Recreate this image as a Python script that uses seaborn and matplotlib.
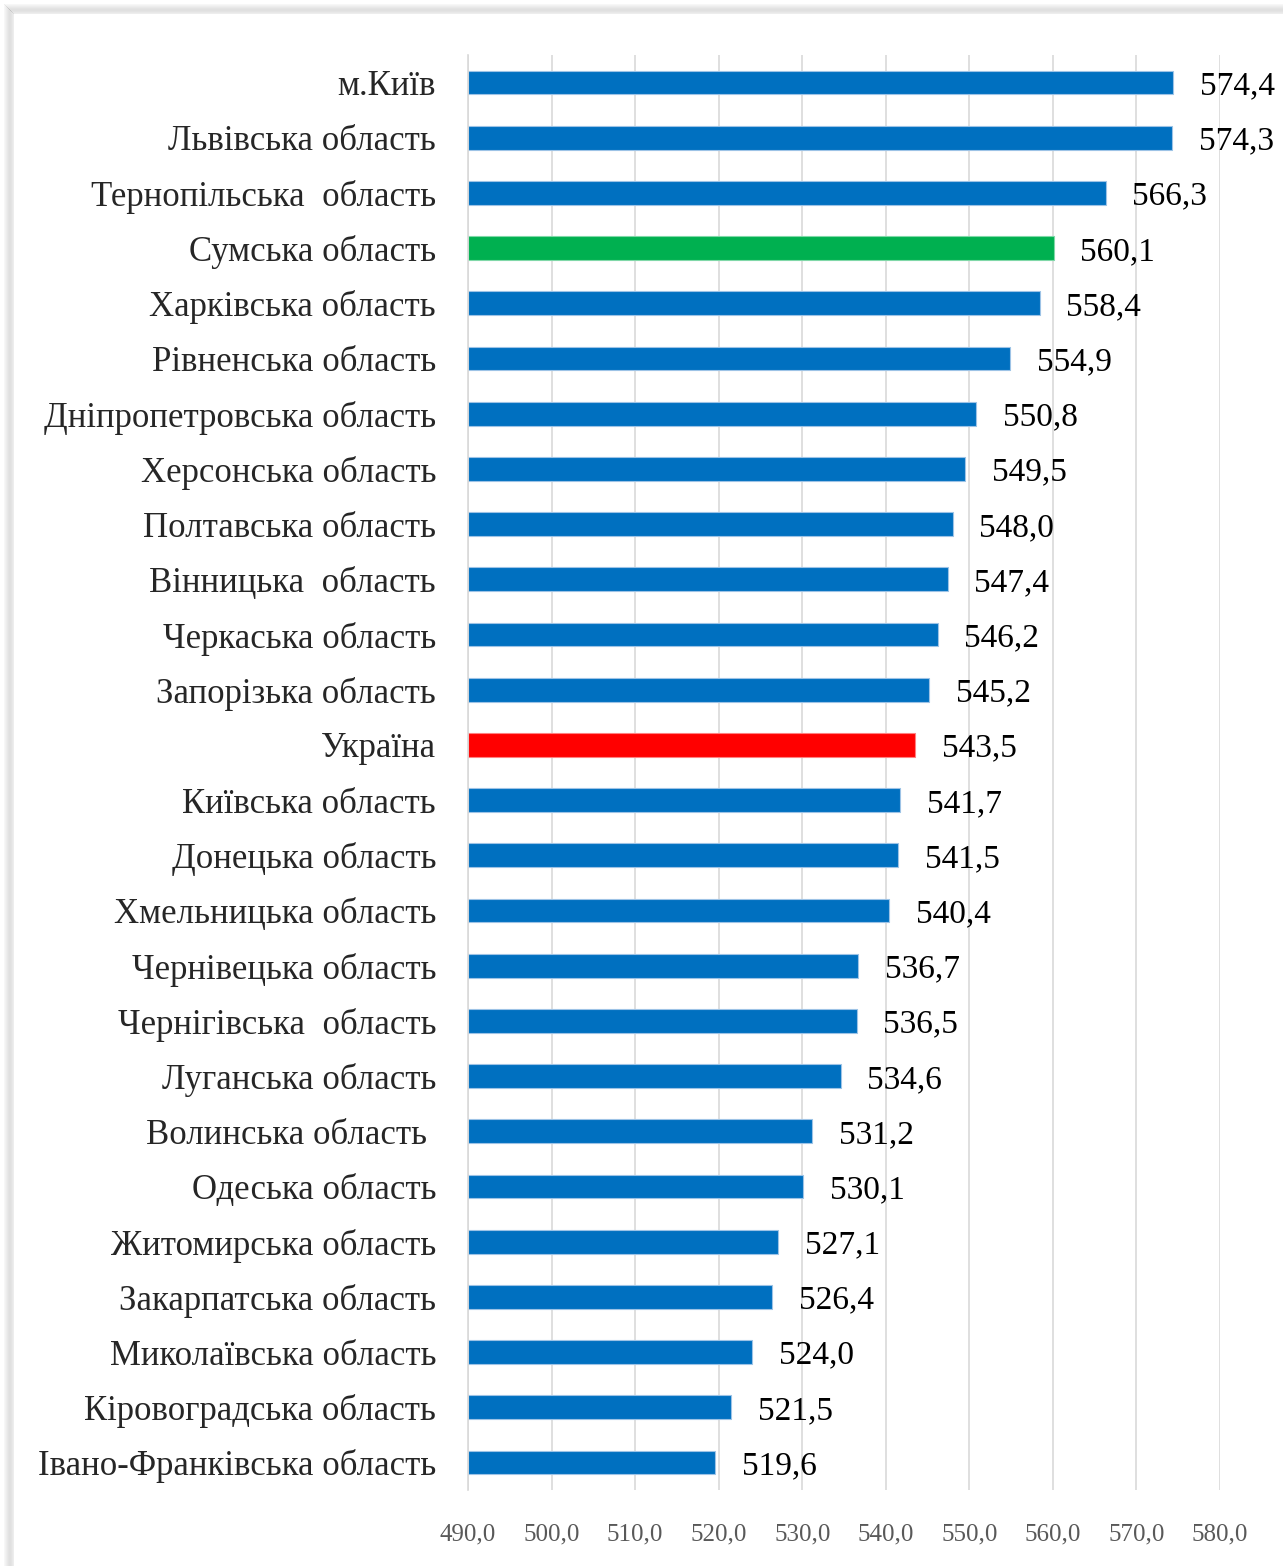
import numpy as np
import pandas as pd
import matplotlib
matplotlib.use('Agg')
import matplotlib.pyplot as plt
from matplotlib.patches import Rectangle
import seaborn as sns

regions = [
    'м.Київ', 'Львівська область', 'Тернопільська  область', 'Сумська область',
    'Харківська область', 'Рівненська область', 'Дніпропетровська область',
    'Херсонська область', 'Полтавська область', 'Вінницька  область',
    'Черкаська область', 'Запорізька область', 'Україна', 'Київська область',
    'Донецька область', 'Хмельницька область', 'Чернівецька область',
    'Чернігівська  область', 'Луганська область', 'Волинська область ',
    'Одеська область', 'Житомирська область', 'Закарпатська область',
    'Миколаївська область', 'Кіровоградська область', 'Івано-Франківська область',
]
scores = [574.4, 574.3, 566.3, 560.1, 558.4, 554.9, 550.8, 549.5, 548.0, 547.4,
          546.2, 545.2, 543.5, 541.7, 541.5, 540.4, 536.7, 536.5, 534.6, 531.2,
          530.1, 527.1, 526.4, 524.0, 521.5, 519.6]
x_ticks = [490, 500, 510, 520, 530, 540, 550, 560, 570, 580]

BLUE = '#0070C0'
GREEN = '#00B050'
RED = '#FF0000'

colors = []
for r in regions:
    if r == 'Україна':
        colors.append(RED)
    elif r.startswith('Сумська'):
        colors.append(GREEN)
    else:
        colors.append(BLUE)

df = pd.DataFrame({'region': regions, 'score': scores})

sns.set_style('white')
plt.rcParams['font.family'] = ['Liberation Serif', 'DejaVu Serif']

fig = plt.figure(figsize=(12.83, 15.66), dpi=100)

# рамка з тінню (верх і ліворуч)
W, H = 1283, 1566
for i, a in enumerate([0.03, 0.05, 0.07, 0.09, 0.11, 0.12, 0.12, 0.11, 0.09, 0.07]):
    off = 4 + i
    fig.patches.append(Rectangle((off / W, 0), 1 / W, 1 - off / H,
                                 transform=fig.transFigure, color='#000000',
                                 alpha=a, lw=0, zorder=0))
    fig.patches.append(Rectangle((off / W, 1 - (off + 1) / H), 1, 1 / H,
                                 transform=fig.transFigure, color='#000000',
                                 alpha=a, lw=0, zorder=0))

ax = fig.add_axes([468 / W, 1 - 1490 / H, (1220 - 468) / W, (1490 - 55) / H])

sns.barplot(data=df, x='score', y='region', hue='region', palette=colors,
            legend=False, width=0.43, orient='h', ax=ax, saturation=1,
            edgecolor='#9DC3E6', linewidth=0.8)
# база осі — 490, тож бари починаються з 490
for bar, v in zip(ax.patches, scores):
    bar.set_x(490)
    bar.set_width(v - 490)
for bar, c in zip(ax.patches, colors):
    if c != BLUE:
        bar.set_edgecolor('#FF8080' if c == RED else '#80D8A8')

ax.set_xlim(490, 580)
ax.set_xticks(x_ticks)
ax.set_xticklabels([f'{t:.1f}'.replace('.', ',') for t in x_ticks],
                   fontsize=18, color='#595959')
ax.tick_params(axis='x', length=0, pad=24)
ax.tick_params(axis='y', length=0, pad=23, labelsize=25)
ax.xaxis.grid(True, color='#D9D9D9', linewidth=1.2)
ax.set_axisbelow(True)
for s in ['top', 'right', 'bottom']:
    ax.spines[s].set_visible(False)
ax.spines['left'].set_color('#D9D9D9')
ax.spines['left'].set_linewidth(1.2)
ax.set_xlabel('')
ax.set_ylabel('')

for bar, v in zip(ax.patches, scores):
    ax.text(v + 3.2, bar.get_y() + bar.get_height() / 2,
            f'{v:.1f}'.replace('.', ','), va='center_baseline', ha='left',
            fontsize=24, color='black', clip_on=False)

fig.savefig('out.png', dpi=100)
